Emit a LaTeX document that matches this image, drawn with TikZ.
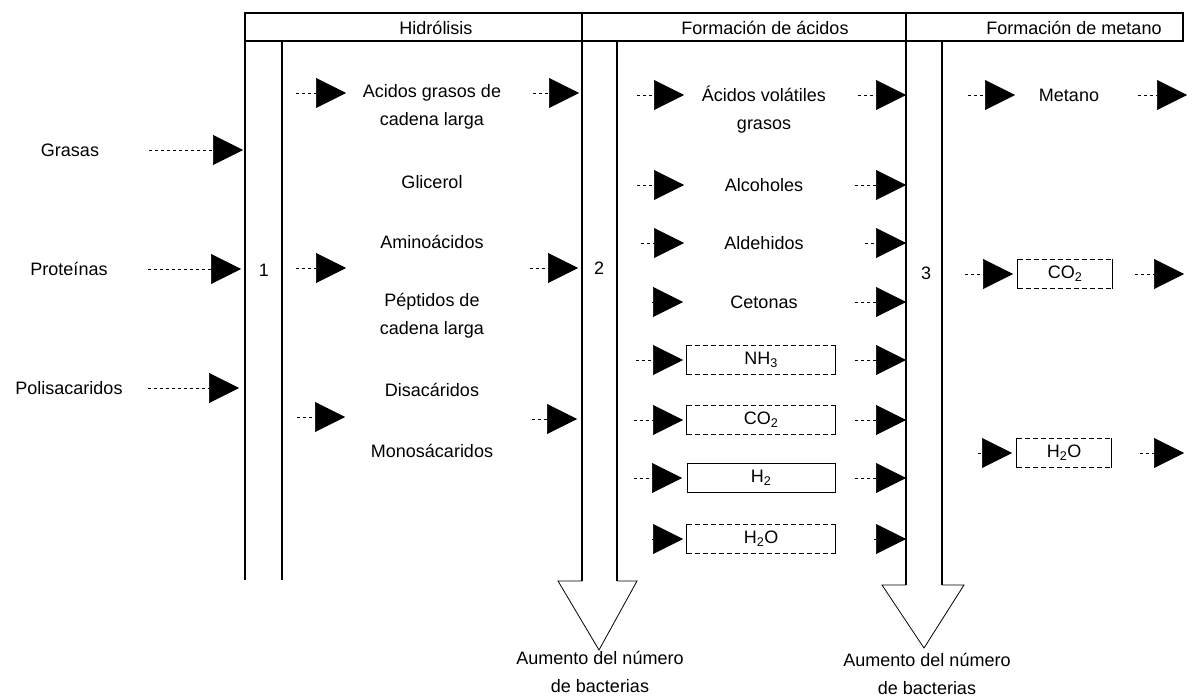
\documentclass[tikz,border=0pt]{standalone}
\usepackage{fontspec}
\setmainfont{Liberation Sans}
\usetikzlibrary{arrows.meta}
\begin{document}
\begin{tikzpicture}[x=1pt,y=-1pt,
  lbl/.style={font=\fontsize{18}{28}\selectfont, inner sep=0pt, align=center},
  feed/.style={line width=0.6pt, dash pattern=on 3pt off 3pt, -{Triangle[length=30pt,width=30pt]}},
  shaftline/.style={line width=2.2pt},
  hdr/.style={line width=1.4pt},
  headline/.style={line width=0.8pt},
  boxdash/.style={line width=0.7pt, dash pattern=on 5pt off 3pt},
  boxside/.style={line width=1pt},
  gas/.style={lbl, minimum height=29pt}
]
\useasboundingbox (0,0) rectangle (1197,700);

% header
\draw[hdr] (245,13) rectangle (1183,41);
\draw[hdr] (582,13) -- (582,41) (906,13) -- (906,41);
\node[lbl] (h1) at (436,28) {Hidrólisis};
\node[lbl] (h2) at (765,28) {Formación de ácidos};
\node[lbl] (h3) at (1074,28) {Formación de metano};

% shafts
\draw[shaftline] (245,41) -- (245,580) (282,41) -- (282,580);
\draw[shaftline] (582,41) -- (582,581) (617,41) -- (617,581);
\draw[shaftline] (906,41) -- (906,585) (942,41) -- (942,585);
% hollow arrow heads
\draw[headline] (582,581) -- (558,581) -- (599,650) -- (637,581) -- (617,581);
\draw[headline] (906,585) -- (882,585) -- (924,648) -- (964,585) -- (942,585);

\node[lbl] (n1) at (264,270) {1};
\node[lbl] (n2) at (599,268) {2};
\node[lbl] (n3) at (926,273) {3};

% substrates
\node[lbl] (grasas) at (70,150) {Grasas};
\node[lbl] (prot) at (69,269) {Proteínas};
\node[lbl] (poli) at (69,388) {Polisacaridos};
\coordinate (grasasT) at (243,150);
\coordinate (protT) at (241,269);
\coordinate (poliT) at (239,388);
\draw[feed, shorten <=50pt] (grasas.east) -- (grasasT);
\draw[feed, shorten <=40pt] (prot.east) -- (protT);
\draw[feed, shorten <=25pt] (poli.east) -- (poliT);

% hydrolysis products
\node[lbl] (agcl) at (432,107) {Acidos grasos de\\cadena larga};
\node[lbl] (glic) at (432,182) {Glicerol};
\node[lbl] (amin) at (432,242) {Aminoácidos};
\node[lbl] (pept) at (432,316) {Péptidos de\\cadena larga};
\node[lbl] (disa) at (432,390) {Disacáridos};
\node[lbl] (mono) at (432,451) {Monosácaridos};

% acid formation products
\node[lbl] (avg) at (764,110) {Ácidos volátiles\\grasos};
\node[lbl] (alco) at (764,185) {Alcoholes};
\node[lbl] (alde) at (764,243) {Aldehidos};
\node[lbl] (ceto) at (764,302) {Cetonas};
\node[gas, minimum width=148pt] (nh3) at (761,360) {NH\textsubscript{3}};
\node[gas, minimum width=148pt] (co2a) at (761,420) {CO\textsubscript{2}};
\node[gas, minimum width=148pt, draw, line width=1pt] (h2) at (761,478) {H\textsubscript{2}};
\node[gas, minimum width=148pt] (h2oa) at (761,539) {H\textsubscript{2}O};

% methane formation products
\node[lbl] (meta) at (1069,95) {Metano};
\node[gas, minimum width=94pt] (co2b) at (1065,274) {CO\textsubscript{2}};
\node[gas, minimum width=94pt] (h2ob) at (1064,453) {H\textsubscript{2}O};

\foreach \b in {nh3,co2a,h2oa,co2b,h2ob}{
  \draw[boxdash] (\b.north west) -- (\b.north east) (\b.south west) -- (\b.south east);
  \draw[boxside] (\b.north west) -- (\b.south west) (\b.north east) -- (\b.south east);
}

% feed arrows
\foreach \n/\y/\xs/\xt in {
  a/93/296/346, b/268/296/346, c/417/297/345,
  d/93/533/579, e/268/530/578, f/419/532/577,
  g/95/637/684, h/185/637/684, i/243/641/684, j/302/652/683,
  k/360/636/683, l/420/634/683, m/478/634/682, n/539/652/683,
  o/95/858/906, p/185/855/906, q/243/865/906, r/302/855/906,
  s/360/855/906, t/420/855/906, u/478/855/906, v/539/874/906,
  w/95/968/1015, x/274/965/1013, y/453/978/1012,
  z/95/1138/1187, aa/274/1135/1184, ab/453/1140/1184}{
  \coordinate (\n S) at (\xs,\y);
  \coordinate (\n T) at (\xt,\y);
  \draw[feed] (\n S) -- (\n T);
}

% bottom labels
\node[lbl] (aum1) at (600,672) {Aumento del número\\de bacterias};
\node[lbl] (aum2) at (927,674) {Aumento del número\\de bacterias};
\end{tikzpicture}
\end{document}
